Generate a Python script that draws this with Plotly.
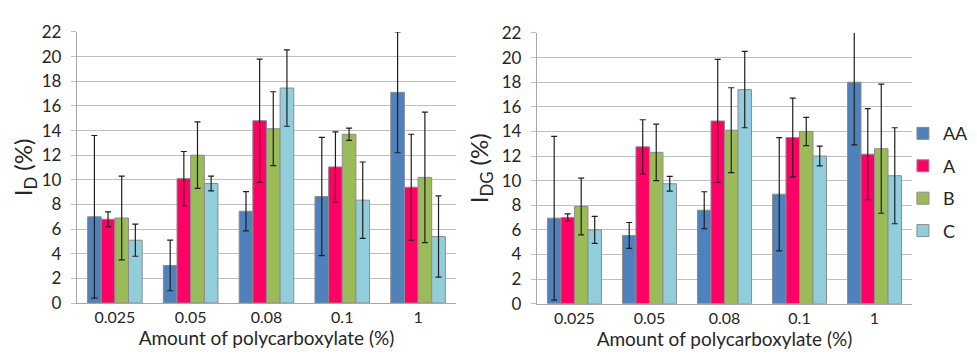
import plotly.graph_objects as go
from plotly.subplots import make_subplots

categories = ["0.025", "0.05", "0.08", "0.1", "1"]
series_names = ["AA", "A", "B", "C"]
colors = ["#4F81BD", "#FF0066", "#9BBB59", "#92CDDC"]

# left panel: I_D (%)
id_values = {
    "AA": [7.0, 3.05, 7.45, 8.65, 17.1],
    "A": [6.8, 10.1, 14.8, 11.05, 9.4],
    "B": [6.9, 12.0, 14.15, 13.7, 10.2],
    "C": [5.1, 9.7, 17.45, 8.35, 5.4],
}
id_errors = {
    "AA": [6.6, 2.05, 1.6, 4.8, 4.9],
    "A": [0.6, 2.2, 5.0, 2.85, 4.3],
    "B": [3.4, 2.7, 3.0, 0.5, 5.3],
    "C": [1.3, 0.6, 3.1, 3.1, 3.3],
}

# right panel: I_DG (%)
idg_values = {
    "AA": [6.95, 5.55, 7.6, 8.9, 18.0],
    "A": [7.0, 12.75, 14.85, 13.5, 12.15],
    "B": [7.9, 12.3, 14.1, 14.0, 12.6],
    "C": [6.0, 9.75, 17.4, 12.0, 10.4],
}
idg_errors = {
    "AA": [6.65, 1.05, 1.5, 4.6, 5.1],
    "A": [0.3, 2.2, 5.0, 3.2, 3.7],
    "B": [2.3, 2.3, 3.45, 1.15, 5.25],
    "C": [1.1, 0.6, 3.1, 0.8, 3.9],
}

font_family = "Lato, 'Open Sans', sans-serif"
text_color = "#262626"

fig = make_subplots(rows=1, cols=2)

for col, (vals, errs) in enumerate([(id_values, id_errors), (idg_values, idg_errors)], start=1):
    for name, color in zip(series_names, colors):
        fig.add_trace(
            go.Bar(
                x=categories,
                y=vals[name],
                name=name,
                legendgroup=name,
                showlegend=(col == 2),
                marker=dict(color=color, line=dict(color="#8C8C8C", width=1)),
                error_y=dict(type="data", array=errs[name], color="#1F1F1F",
                             thickness=1.2, width=3),
            ),
            row=1, col=col,
        )

axis_common = dict(
    range=[0, 22], dtick=2, showgrid=True, gridcolor="#BFBFBF", gridwidth=1.3,
    showline=True, linecolor="#A6A6A6", linewidth=1.3,
    ticks="outside", ticklen=5, tickcolor="#BFBFBF", ticklabelstandoff=6,
    tickfont=dict(size=17, color=text_color), zeroline=False,
)
xaxis_common = dict(
    showline=True, linecolor="#A6A6A6", linewidth=1.3, showgrid=False,
    tickfont=dict(size=16, color=text_color),
    title=dict(text="Amount of polycarboxylate (%)", font=dict(size=19, color=text_color), standoff=4),
)

fig.update_layout(
    width=977, height=354,
    margin=dict(l=0, r=0, t=0, b=0),
    paper_bgcolor="white", plot_bgcolor="white",
    font=dict(family=font_family, color=text_color),
    barmode="group", bargap=0.28, bargroupgap=0,
    xaxis=dict(domain=[0.0706, 0.4585], **xaxis_common),
    xaxis2=dict(domain=[0.5414, 0.9253], **xaxis_common),
    yaxis=dict(domain=[0.147, 0.961],
               title=dict(text="I<sub>D</sub> (%)", font=dict(size=24, color=text_color), standoff=6),
               **axis_common),
    yaxis2=dict(domain=[0.145, 0.958],
                title=dict(text="I<sub>DG</sub> (%)", font=dict(size=24, color=text_color), standoff=6),
                **axis_common),
    legend=dict(x=0.916, y=0.51, xanchor="left", yanchor="middle",
                font=dict(size=18, color=text_color), tracegroupgap=6,
                bgcolor="rgba(0,0,0,0)"),
)

fig.write_html("out.html")
